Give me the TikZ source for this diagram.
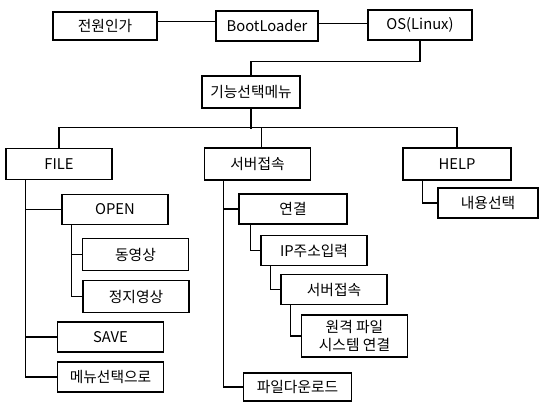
\documentclass[tikz,border=0pt]{standalone}
\usepackage{fontspec}
\setmainfont{Noto Sans CJK KR}
\usepackage{tikz}
\usetikzlibrary{positioning}

\begin{document}
\begin{tikzpicture}[x=0.025cm,y=-0.025cm,line width=0.8pt,
		menubox/.style={draw,minimum width=2.65cm,minimum height=0.75cm,inner sep=1pt,font=\fontsize{10.5}{12.5}\selectfont}]
		\useasboundingbox (0,0) rectangle (543,402);
		
		\node[menubox,minimum width=2.6cm,minimum height=0.7cm] (power) at (105,26){전원인가};
		\node[menubox,minimum width=2.55cm] (boot) at (267,26){BootLoader};
		\node[menubox,minimum width=2.6cm] (os) at (420,25){OS(Linux)};
		\node[menubox,minimum width=2.45cm,minimum height=0.8cm] (menu) at (251,92){기능선택메뉴};
		
		\draw ([yshift=0.12cm]power.east) -- ([yshift=0.12cm]power.east -| boot.west);
		\draw ([yshift=0.06cm]boot.east) -- ([yshift=0.06cm]boot.east -| os.west);
		\draw (os.south) -- ++(0,21) -| (menu.north);
		
		\node[menubox,minimum height=0.78cm] (file) at (59,164){FILE};
		\node[menubox,minimum height=0.8cm] (server) at (257.5,164){서버접속};
		\node[menubox,minimum width=2.7cm,minimum height=0.8cm] (help) at (457,164){HELP};
		
		\draw (menu.south) -- ++(0,20);
		\draw (file.north) -- ++(0,-20) -| (help.north);
		\draw ([xshift=0.1cm]server.north) -- ++(0,-20);
		
		% FILE
		\node[menubox,minimum height=0.73cm] (open) at (115,209.5){OPEN};
		\node[menubox,minimum height=0.78cm] (movie) at (135.5,254.5){동영상};
		\node[menubox,minimum height=0.78cm] (still) at (136,296.5){정지영상};
		\node[menubox] (save) at (110.5,337){SAVE};
		\node[menubox] (back) at (110.5,377){메뉴선택으로};
		
		\draw ([xshift=0.5cm]file.south west) |- (open.west);
		\draw ([xshift=0.5cm]file.south west) |- (save.west);
		\draw ([xshift=0.5cm]file.south west) |- (back.west);
		\draw ([xshift=0.25cm]open.south west) |- (movie.west);
		\draw ([xshift=0.25cm]open.south west) |- (still.west);
		
		% 서버접속
		\node[menubox,minimum width=2.7cm] (connect) at (293,209){연결};
		\node[menubox,minimum height=0.73cm] (ip) at (314,250.5){IP주소입력};
		\node[menubox,minimum height=0.73cm] (server2) at (334,289.5){서버접속};
		\node[menubox,minimum height=1.05cm,align=center] (remote) at (354.5,336){원격 파일\\시스템 연결};
		\node[menubox,minimum width=2.72cm,minimum height=0.7cm] (download) at (297.5,387){파일다운로드};
		
		\draw ([xshift=0.5cm]server.south west) |- (connect.west);
		\draw ([xshift=0.5cm]server.south west) |- (download.west);
		\draw ([xshift=0.3cm]connect.south west) |- (ip.west);
		\draw ([xshift=0.25cm]ip.south west) |- (server2.west);
		\draw ([xshift=0.25cm]server2.south west) |- (remote.west);
		
		% HELP
		\node[menubox,minimum width=2.5cm] (content) at (488,203){내용선택};
		
		\draw ([xshift=0.5cm]help.south west) |- (content.west);
	\end{tikzpicture}
\end{document}
